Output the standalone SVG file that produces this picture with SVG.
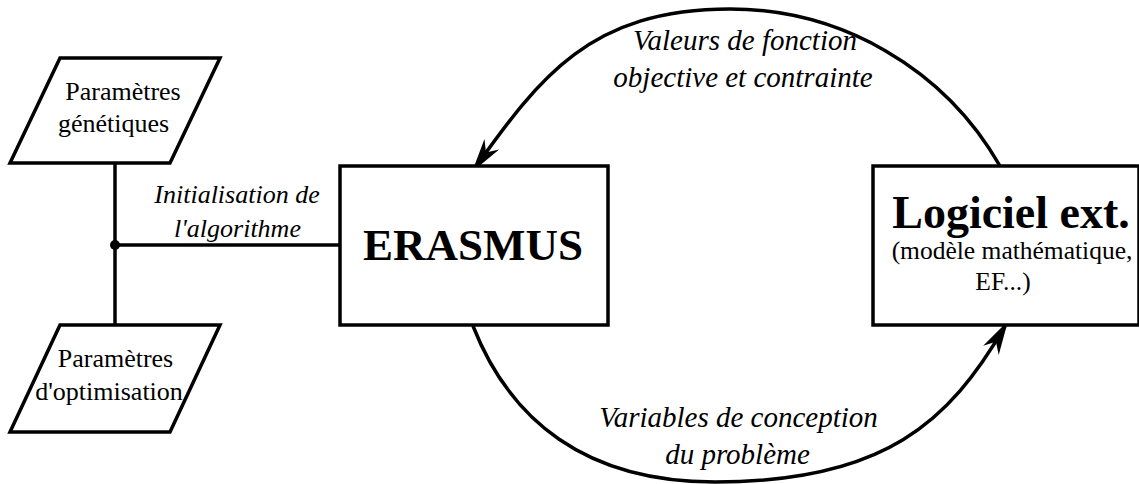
<svg xmlns="http://www.w3.org/2000/svg" width="1139" height="484" viewBox="0 0 1139 484">
  <style>
    .shape { fill: #ffffff; stroke: #000000; stroke-width: 3.5; stroke-linejoin: miter; }
    .conn { fill: none; stroke: #000000; stroke-width: 3.5; }
    .txt { font-family: "Liberation Serif", "Times New Roman", serif; fill: #000000; text-anchor: middle; }
    .node { font-size: 26px; }
    .title { font-size: 45px; font-weight: bold; }
    .sub { font-size: 25.5px; }
    .lbl { font-size: 26px; font-style: italic; }
    .arc { font-size: 29px; font-style: italic; }
  </style>
  <defs>
    <marker id="arrow" markerUnits="userSpaceOnUse" markerWidth="40" markerHeight="24" refX="28" refY="10" orient="auto" overflow="visible">
      <path d="M34,10 L0,1 L10,10 L0,19 Z" fill="#000000"/>
    </marker>
  </defs>
  <rect x="0" y="0" width="1139" height="484" fill="#ffffff"/>

  <g id="connectors">
    <line class="conn" x1="115" y1="163" x2="115" y2="325"/>
    <line class="conn" x1="115" y1="245" x2="340" y2="245"/>
    <circle cx="115" cy="245" r="5" fill="#000000"/>
    <path id="arc-top" class="conn" d="M1000,166 A311,311 0 0 0 730,9 C590,9 539.3,78 475.5,167.1" marker-end="url(#arrow)"/>
    <path id="arc-bottom" class="conn" d="M473,326 C510,420 585,482 715,482 C885,482 949.7,421.2 1005,326.2" marker-end="url(#arrow)"/>
    <text class="txt lbl" x="237" y="203">Initialisation de</text>
    <text class="txt lbl" x="237.5" y="237">l'algorithme</text>
    <text class="txt arc" x="745" y="50">Valeurs de fonction</text>
    <text class="txt arc" x="743" y="87">objective et contrainte</text>
    <text class="txt arc" x="738.5" y="427">Variables de conception</text>
    <text class="txt arc" x="737.5" y="464">du problème</text>
  </g>

  <g id="param-genetiques">
    <polygon class="shape" points="60,58 220,58 170,163 10,163"/>
    <text class="txt node" x="123" y="100">Paramètres</text>
    <text class="txt node" x="113.5" y="132">génétiques</text>
  </g>

  <g id="param-optimisation">
    <polygon class="shape" points="60,325 220,325 170,432 10,432"/>
    <text class="txt node" x="115.5" y="367">Paramètres</text>
    <text class="txt node" x="109" y="400">d'optimisation</text>
  </g>

  <g id="erasmus">
    <rect class="shape" x="340" y="166" width="268" height="159"/>
    <text class="txt title" x="473" y="260">ERASMUS</text>
  </g>

  <g id="logiciel">
    <rect class="shape" x="873" y="166" width="266" height="159"/>
    <text class="txt title" x="1011" y="228" style="font-size:46px">Logiciel ext.</text>
    <text class="txt sub" x="1012" y="259">(modèle mathématique,</text>
    <text class="txt sub" x="1003" y="290">EF...)</text>
  </g>
</svg>
